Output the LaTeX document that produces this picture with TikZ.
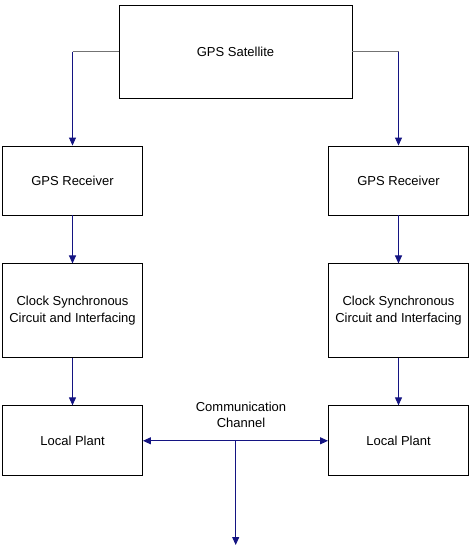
\documentclass[tikz,border=0pt]{standalone}
\usepackage{fontspec}
\setmainfont{Liberation Sans}
\usetikzlibrary{positioning,arrows.meta}
\definecolor{linkblue}{RGB}{20,20,130}

\begin{document}
\begin{tikzpicture}[x=1pt,y=-1pt,
  node distance=48pt and 4pt,
  blk/.style={draw,line width=0.9pt,minimum width=140pt,align=center,inner sep=2pt,
    font=\fontsize{13}{16.6}\selectfont},
  rx/.style={blk,minimum height=69pt},
  clk/.style={blk,minimum height=94pt},
  plant/.style={blk,minimum height=70pt},
  ar/.style={-{Triangle[length=8pt,width=7pt]},line width=1pt,draw=linkblue,fill=linkblue},
  feed/.style={line width=0.6pt,draw=black!55}]
\useasboundingbox (0,0) rectangle (472,550);
% ---- satellite ----
\node[blk,minimum width=233pt,minimum height=93pt] (sat) at (235.5,51.5) {GPS Satellite};
% ---- left chain ----
\node[rx] (rxA) at (72.5,180.5) {GPS Receiver};
\node[clk,below=of rxA] (clkA) {Clock Synchronous\\Circuit and Interfacing};
\node[plant,below=47pt of clkA] (lpA) {Local Plant};
% ---- right chain ----
\node[rx] (rxB) at (398.5,180.5) {GPS Receiver};
\node[clk,below=of rxB] (clkB) {Clock Synchronous\\Circuit and Interfacing};
\node[plant,below=47pt of clkB] (lpB) {Local Plant};
% ---- links ----
\coordinate (kA) at (sat.west -| rxA.north);
\coordinate (kB) at (sat.east -| rxB.north);
\draw[feed] (sat.west)--(kA); \draw[ar] (kA)--(rxA);
\draw[feed] (sat.east)--(kB); \draw[ar] (kB)--(rxB);
\draw[ar] (rxA)--(clkA); \draw[ar] (clkA)--(lpA);
\draw[ar] (rxB)--(clkB); \draw[ar] (clkB)--(lpB);
% ---- communication channel ----
\coordinate (hub) at (lpA.east -| 235.7,0);
\coordinate (out) at (235.7,545);
\node[font=\fontsize{13}{16.6}\selectfont,align=center] (chn) at (241,415) {Communication\\Channel};
\draw[ar] (hub)--(lpA.east); \draw[ar] (hub)--(lpB.west); \draw[ar] (hub)--(out);
\end{tikzpicture}
\end{document}
